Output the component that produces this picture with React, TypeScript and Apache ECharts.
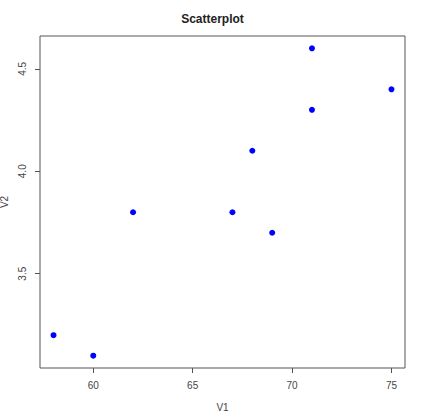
import React, { useEffect, useRef } from "react";
import * as echarts from "echarts";

const v1 = [58, 60, 62, 67, 68, 69, 71, 71, 75];
const v2 = [3.2, 3.1, 3.8, 3.8, 4.1, 3.7, 4.3, 4.6, 4.4];
const xTicks = [60, 65, 70, 75];
const yTicks = [3.5, 4.0, 4.5];

function padRange(vals: number[]) {
  const lo = Math.min(...vals);
  const hi = Math.max(...vals);
  const d = (hi - lo) * 0.04;
  return [lo - d, hi + d];
}

export default function App() {
  const ref = useRef<HTMLDivElement>(null);
  useEffect(() => {
    const chart = echarts.init(ref.current!, null, { renderer: "svg" });
    const [xmin, xmax] = padRange(v1);
    const [ymin, ymax] = padRange(v2);
    const font = "Liberation Sans, Arial, sans-serif";
    chart.setOption({
      animation: false,
      backgroundColor: "#ffffff",
      title: {
        text: "Scatterplot",
        left: "center",
        top: 8,
        textStyle: { fontSize: 12, fontWeight: "bold", color: "#222", fontFamily: font },
      },
      grid: {
        left: 40,
        right: 20,
        top: 36,
        bottom: 51,
        show: true,
        borderColor: "#555",
        borderWidth: 1,
        backgroundColor: "transparent",
        containLabel: false,
        outerBoundsMode: "none",
      },
      xAxis: {
        type: "value",
        min: xmin,
        max: xmax,
        name: "V1",
        nameLocation: "middle",
        nameGap: 34,
        nameTextStyle: { fontSize: 10, color: "#444", fontFamily: font },
        axisLine: { show: false },
        splitLine: { show: false },
        axisTick: { show: true, length: 5, lineStyle: { color: "#555" }, customValues: xTicks },
        axisLabel: { margin: 12, fontSize: 10, color: "#444", fontFamily: font, customValues: xTicks, formatter: (v: number) => String(v) },
      },
      yAxis: {
        type: "value",
        min: ymin,
        max: ymax,
        name: "V2",
        nameLocation: "middle",
        nameGap: 30,
        nameTextStyle: { fontSize: 10, color: "#444", fontFamily: font },
        axisLine: { show: false },
        splitLine: { show: false },
        axisTick: { show: true, length: 5, lineStyle: { color: "#555" }, customValues: yTicks },
        axisLabel: { margin: 13, rotate: 90, fontSize: 10, color: "#444", fontFamily: font, customValues: yTicks, formatter: (v: number) => v.toFixed(1) },
      },
      series: [
        {
          type: "scatter",
          data: v1.map((x, i) => [x, v2[i]]),
          symbol: "circle",
          symbolSize: 6,
          itemStyle: { color: "#0000ff", opacity: 1 },
        },
      ],
    });
    return () => chart.dispose();
  }, []);
  return <div ref={ref} style={{ width: 425, height: 419, position: "fixed", left: 0, top: 0 }} />;
}
